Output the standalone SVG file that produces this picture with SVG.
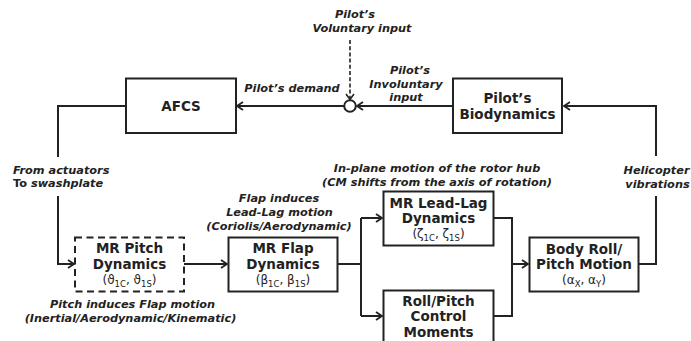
<svg xmlns="http://www.w3.org/2000/svg" width="691" height="341" viewBox="0 0 691 341">
<style>
text{font-family:"DejaVu Sans","Liberation Sans",sans-serif;fill:#222}
.n{font-size:13.5px;font-weight:bold;text-anchor:middle}
.a{font-size:11.3px;font-weight:bold;font-style:italic;text-anchor:middle}
.s{font-size:12px;text-anchor:middle}
.sub{font-size:8.5px}
.box{fill:#fff;stroke:#222;stroke-width:2}
.dbox{fill:#fff;stroke:#222;stroke-width:2;stroke-dasharray:7,4.5}
.c{fill:none;stroke:#222;stroke-width:2}
.d{fill:none;stroke:#222;stroke-width:1.6;stroke-dasharray:4,2.2}
</style>
<defs>
<marker id="ar" markerWidth="9" markerHeight="10" refX="7" refY="5" orient="auto" markerUnits="userSpaceOnUse">
<path d="M1,1 L7,5 L1,9" fill="none" stroke="#222" stroke-width="1.8"/>
</marker>
</defs>
<g id="connectors">
<path class="c" d="M125,106 H58 V157"/>
<path class="c" d="M58,196 V264 H74" marker-end="url(#ar)"/>
<path class="c" d="M184,264 H227" marker-end="url(#ar)"/>
<path class="c" d="M338,264 H361"/>
<path class="c" d="M361,218 V316"/>
<path class="c" d="M361,218 H382" marker-end="url(#ar)"/>
<path class="c" d="M361,316 H382" marker-end="url(#ar)"/>
<path class="c" d="M494,218 H512 V316 H494"/>
<path class="c" d="M512,264 H528" marker-end="url(#ar)"/>
<path class="c" d="M639,264 H656 V196"/>
<path class="c" d="M656,156 V106 H564" marker-end="url(#ar)"/>
<path class="c" d="M452,106 H357" marker-end="url(#ar)"/>
<path class="c" d="M344,106 H237" marker-end="url(#ar)"/>
<path class="d" d="M350,40 V99"/>
<path d="M346,94 L350,99.5 L354,94" fill="none" stroke="#222" stroke-width="1.6"/>
<circle cx="350" cy="106" r="5.8" fill="#fff" stroke="#222" stroke-width="2"/>
</g>
<g id="afcs">
<rect class="box" x="126" y="78.5" width="110" height="54.5"/>
<text class="n" x="181" y="111">AFCS</text>
</g>
<g id="biodynamics">
<rect class="box" x="453" y="78.5" width="109" height="54.5"/>
<text class="n" x="507.5" y="103">Pilot’s</text>
<text class="n" x="507.5" y="119">Biodynamics</text>
</g>
<g id="pitch">
<rect class="dbox" x="75" y="237.5" width="109" height="54"/>
<text class="n" x="129.5" y="253">MR Pitch</text>
<text class="n" x="129.5" y="269">Dynamics</text>
<text class="s" x="129.5" y="283.5">(ϑ<tspan class="sub" dy="3">1C</tspan><tspan dy="-3">, ϑ</tspan><tspan class="sub" dy="3">1S</tspan><tspan dy="-3">)</tspan></text>
</g>
<g id="flap">
<rect class="box" x="228.5" y="237.5" width="109" height="54"/>
<text class="n" x="283" y="253">MR Flap</text>
<text class="n" x="283" y="269">Dynamics</text>
<text class="s" x="283" y="283.5">(β<tspan class="sub" dy="3">1C</tspan><tspan dy="-3">, β</tspan><tspan class="sub" dy="3">1S</tspan><tspan dy="-3">)</tspan></text>
</g>
<g id="leadlag">
<rect class="box" x="383.5" y="191.5" width="110" height="54"/>
<text class="n" x="438.5" y="207.5">MR Lead-Lag</text>
<text class="n" x="438.5" y="223">Dynamics</text>
<text class="s" x="438.5" y="237.5">(ζ<tspan class="sub" dy="3">1C</tspan><tspan dy="-3">, ζ</tspan><tspan class="sub" dy="3">1S</tspan><tspan dy="-3">)</tspan></text>
</g>
<g id="rollpitch">
<rect class="box" x="383.5" y="290.5" width="110" height="60"/>
<text class="n" x="438.5" y="305.5">Roll/Pitch</text>
<text class="n" x="438.5" y="321">Control</text>
<text class="n" x="438.5" y="336.5">Moments</text>
</g>
<g id="body">
<rect class="box" x="529.5" y="237.5" width="109" height="54"/>
<text class="n" x="584" y="253.5">Body Roll/</text>
<text class="n" x="584" y="269">Pitch Motion</text>
<text class="s" x="584" y="283.5">(α<tspan class="sub" dy="3">X</tspan><tspan dy="-3">, α</tspan><tspan class="sub" dy="3">Y</tspan><tspan dy="-3">)</tspan></text>
</g>
<g id="labels">
<text class="a" x="355" y="18">Pilot’s</text>
<text class="a" x="362" y="31.5">Voluntary input</text>
<text class="a" x="292" y="92">Pilot’s demand</text>
<text class="a" x="410" y="74">Pilot’s</text>
<text class="a" x="406" y="87.5">Involuntary</text>
<text class="a" x="406" y="101">input</text>
<text class="a" x="13" y="174" style="text-anchor:start">From actuators</text>
<text class="a" x="13" y="187" style="text-anchor:start"><tspan style="font-style:normal">To</tspan> swashplate</text>
<text class="a" x="437" y="172">In-plane motion of the rotor hub</text>
<text class="a" x="437" y="186">(CM shifts from the axis of rotation)</text>
<text class="a" x="656.5" y="174">Helicopter</text>
<text class="a" x="657.5" y="187.5">vibrations</text>
<text class="a" x="279" y="202">Flap induces</text>
<text class="a" x="279.5" y="216">Lead-Lag motion</text>
<text class="a" x="279" y="230">(Coriolis/Aerodynamic)</text>
<text class="a" x="132.5" y="307.5">Pitch induces Flap motion</text>
<text class="a" x="130.5" y="322">(Inertial/Aerodynamic/Kinematic)</text>
</g>
</svg>
